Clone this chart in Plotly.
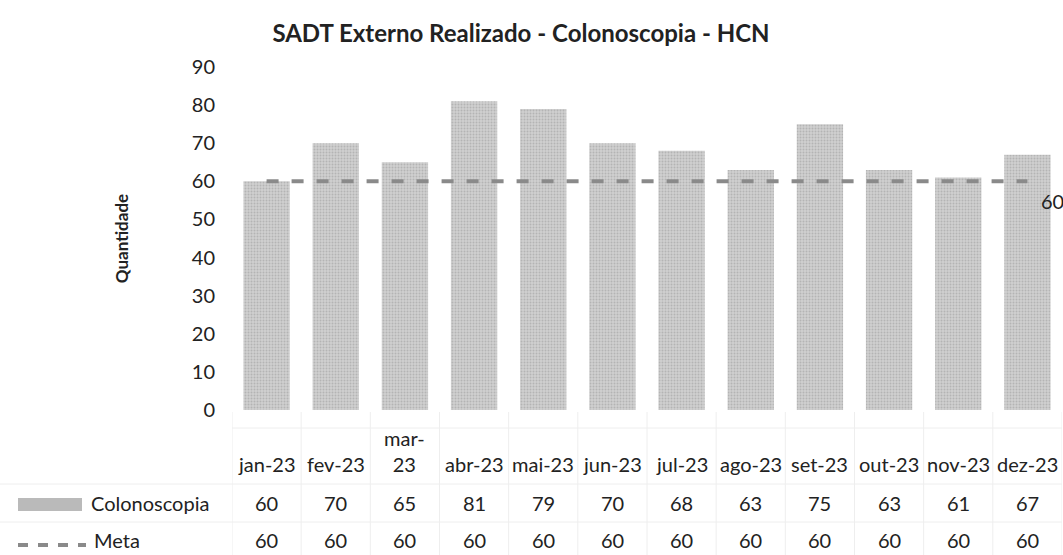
import plotly.graph_objects as go

categories = ["jan-23", "fev-23", "mar-23", "abr-23", "mai-23", "jun-23",
              "jul-23", "ago-23", "set-23", "out-23", "nov-23", "dez-23"]
category_labels = ["jan-23", "fev-23", "mar-<br>23", "abr-23", "mai-23", "jun-23",
                   "jul-23", "ago-23", "set-23", "out-23", "nov-23", "dez-23"]
colonoscopia = [60, 70, 65, 81, 79, 70, 68, 63, 75, 63, 61, 67]
meta = [60, 60, 60, 60, 60, 60, 60, 60, 60, 60, 60, 60]
y_ticks = [0, 10, 20, 30, 40, 50, 60, 70, 80, 90]

FONT = "Lato, 'Open Sans', sans-serif"
BAR_COLOR = "#bababa"
LINE_COLOR = "#8a8a8a"
TXT = "#222222"
META_DASH = "12px,13px"

fig = go.Figure()
fig.add_trace(go.Bar(
    x=categories, y=colonoscopia, name="Colonoscopia",
    marker=dict(color=BAR_COLOR, line=dict(width=0),
                pattern=dict(shape=".", size=3, solidity=0.35, fgcolor="#9a9a9a", bgcolor="#cfcfcf")),
))
fig.add_trace(go.Scatter(
    x=categories, y=meta, name="Meta", mode="lines",
    line=dict(color=LINE_COLOR, width=4, dash=META_DASH),
    cliponaxis=False,
))

# end label of Meta
fig.add_annotation(x=categories[-1], y=meta[-1], xref="x", yref="y",
                   text=str(meta[-1]), showarrow=False, xanchor="left", xshift=12,
                   yshift=-20, font=dict(family=FONT, size=20, color=TXT))

# data table
W, H = 1063, 555
ML, MR, MT, MB = 232, 1, 67, 145
PW = W - ML - MR
PH = H - MT - MB


def py(px):
    return (H - MB - px) / PH


def pxp(px):
    return (px - ML) / PW


row_cat_bottom = 478
row_col = 503
row_meta = 540
TFS = 20
for i, c in enumerate(categories):
    fig.add_annotation(x=c, y=py(row_cat_bottom), xref="x", yref="paper",
                       text=category_labels[i], showarrow=False, yanchor="bottom",
                       font=dict(family=FONT, size=TFS, color=TXT))
    fig.add_annotation(x=c, y=py(row_col), xref="x", yref="paper",
                       text=str(colonoscopia[i]), showarrow=False, yanchor="middle",
                       font=dict(family=FONT, size=TFS, color=TXT))
    fig.add_annotation(x=c, y=py(row_meta), xref="x", yref="paper",
                       text=str(meta[i]), showarrow=False, yanchor="middle",
                       font=dict(family=FONT, size=TFS, color=TXT))

# table grid (faint)
grid = "#eeeeee"
for ypx in [428, 484, 522]:
    x0 = ML if ypx == 428 else 0
    fig.add_shape(type="line", xref="paper", yref="paper",
                  x0=pxp(x0), x1=1, y0=py(ypx), y1=py(ypx),
                  line=dict(color=grid, width=1))
for k in range(13):
    fig.add_shape(type="line", xref="x", yref="paper",
                  x0=k - 0.5, x1=k - 0.5, y0=py(412), y1=py(555),
                  line=dict(color=grid, width=1))

# legend keys in table
fig.add_shape(type="rect", xref="paper", yref="paper",
              x0=pxp(18), x1=pxp(82), y0=py(511), y1=py(498),
              fillcolor=BAR_COLOR, line=dict(width=0))
fig.add_shape(type="line", xref="paper", yref="paper",
              x0=pxp(18), x1=pxp(86), y0=py(545), y1=py(545),
              line=dict(color=LINE_COLOR, width=4, dash="10px,10px"))
fig.add_annotation(x=pxp(89), y=py(row_col), xref="paper", yref="paper",
                   text="Colonoscopia", showarrow=False, xanchor="left", yanchor="middle",
                   font=dict(family=FONT, size=TFS, color=TXT))
fig.add_annotation(x=pxp(92), y=py(row_meta), xref="paper", yref="paper",
                   text="Meta", showarrow=False, xanchor="left", yanchor="middle",
                   font=dict(family=FONT, size=TFS, color=TXT))

fig.update_layout(
    width=W, height=H,
    margin=dict(l=ML, r=MR, t=MT, b=MB),
    paper_bgcolor="white", plot_bgcolor="white",
    showlegend=False,
    bargap=0.33,
    title=dict(text="<b>SADT Externo Realizado - Colonoscopia - HCN</b>",
               x=521 / W, xanchor="center", y=1 - 34 / H, yanchor="middle",
               font=dict(family=FONT, size=24, color=TXT)),
    font=dict(family=FONT, color=TXT),
)
fig.update_xaxes(showticklabels=False, showgrid=False, zeroline=False, showline=False,
                 range=[-0.5, 11.5])
fig.update_yaxes(range=[0, 90], tickvals=y_ticks, showgrid=False, zeroline=False,
                 showline=False, ticks="", ticklabelstandoff=16,
                 tickfont=dict(family=FONT, size=20, color=TXT),
                 title=dict(text="<b>Quantidade</b>", standoff=58,
                            font=dict(family=FONT, size=17, color=TXT)))

fig.write_html("out.html", config={"displayModeBar": False},
               post_script="document.body.style.margin='0';")
